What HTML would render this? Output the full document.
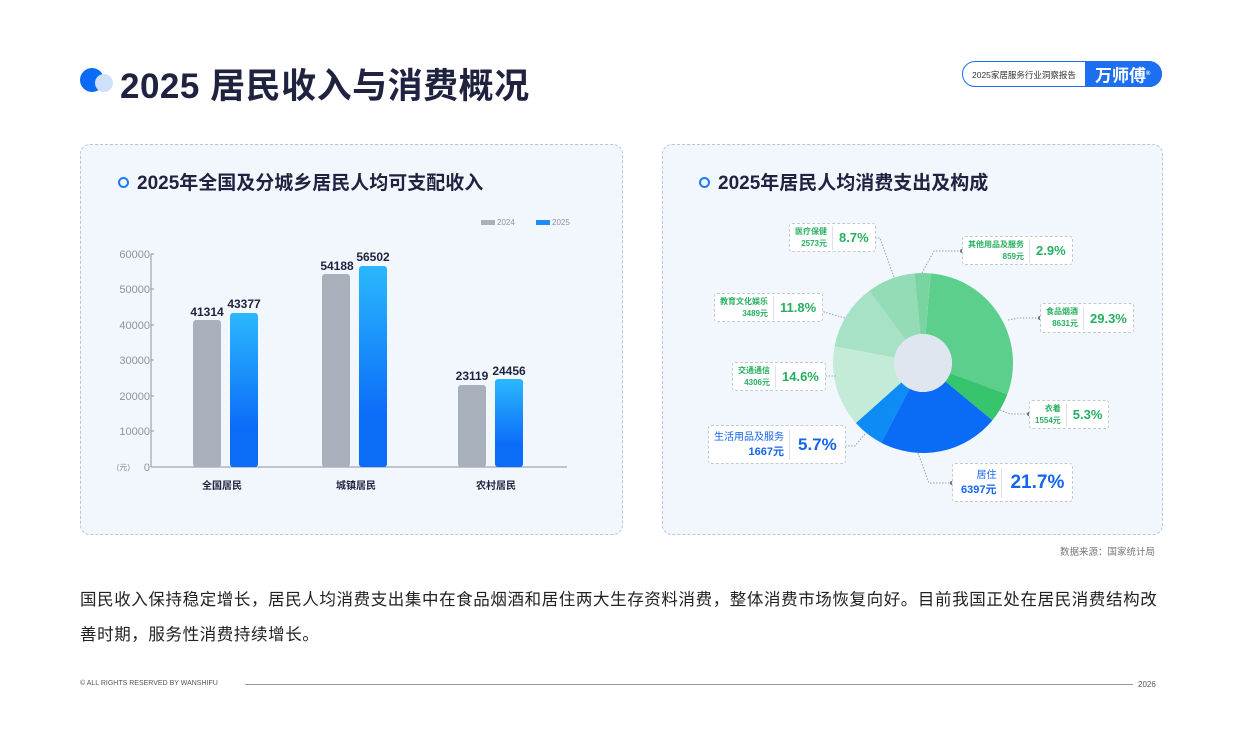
<!DOCTYPE html>
<html><head><meta charset="utf-8">
<style>
*{margin:0;padding:0;box-sizing:border-box}
body{width:1240px;height:739px;background:#fff;font-family:"Liberation Sans","Noto Sans CJK SC",sans-serif;position:relative;overflow:hidden;color:#1f2340}
.abs{position:absolute}
.card{position:absolute;background:#f2f7fe;border:1px dashed #b9c6dc;border-radius:10px}
.ct{position:absolute;font-weight:bold;font-size:19px;color:#1f2340;white-space:nowrap}
.ring{display:inline-block;width:11px;height:11px;border:2px solid #1b7cf5;border-radius:50%;margin-right:8px;vertical-align:1px}
.lb{position:absolute;background:#fff;border:1px dashed #c3c9d3;border-radius:3px;display:flex;align-items:center;justify-content:flex-end;white-space:nowrap;padding-left:5px}
.lb .t{flex:none;text-align:right;font-size:8px;line-height:12px;font-weight:bold;padding-right:5px;border-right:1px solid #dde2ea;white-space:nowrap}
.lb .p{flex:none;font-weight:bold;padding:0 6px 0 6px;font-size:13px}
.g{color:#27ae60}.b{color:#1464f0}
</style></head><body>
<div class="abs" style="left:80px;top:68px;width:24px;height:24px;border-radius:50%;background:#0a6cf6"></div>
<div class="abs" style="left:95px;top:74px;width:18px;height:18px;border-radius:50%;background:#cfe0fa"></div>
<div class="abs" style="left:120px;top:58px;font-size:35px;font-weight:bold;color:#1f2340;letter-spacing:0.5px">2025 居民收入与消费概况</div>
<div class="abs" style="left:962px;top:61px;width:200px;height:26px;border:1.5px solid #1b6ff0;border-radius:13px;background:#fff"></div>
<div class="abs" style="left:972px;top:69px;font-size:8.5px;color:#333;white-space:nowrap">2025家居服务行业洞察报告</div>
<div class="abs" style="left:1085px;top:61px;width:77px;height:26px;background:#1b6ff0;border-radius:0 13px 13px 0;color:#fff;font-size:17px;font-weight:bold;padding-left:10px;line-height:26px">万师傅<sup style="font-size:6px">®</sup></div>

<div class="card" style="left:80px;top:144px;width:543px;height:391px"></div>
<div class="ct" style="left:118px;top:168px"><span class="ring"></span>2025年全国及分城乡居民人均可支配收入</div>
<div class="card" style="left:662px;top:144px;width:501px;height:391px"></div>
<div class="ct" style="left:699px;top:168px"><span class="ring"></span>2025年居民人均消费支出及构成</div>

<svg class="abs" style="left:0;top:0" width="1240" height="739">
<defs><linearGradient id="bg" x1="0" y1="0" x2="0" y2="1"><stop offset="0" stop-color="#2bb8fe"/><stop offset="0.75" stop-color="#0b6cf8"/></linearGradient></defs>
<g font-family="Liberation Sans" font-size="11" fill="#8a93a3" text-anchor="end">
<text x="150" y="258">60000</text><text x="150" y="293">50000</text><text x="150" y="329">40000</text><text x="150" y="364">30000</text><text x="150" y="400">20000</text><text x="150" y="435">10000</text><text x="150" y="471">0</text>
<text x="130" y="470" font-size="8">(元)</text></g>
<g stroke="#8a93a3" stroke-width="1"><line x1="151" y1="254" x2="151" y2="467"/><line x1="151" y1="467" x2="567" y2="467"/>
<line x1="151" y1="254" x2="154" y2="254"/><line x1="151" y1="289" x2="154" y2="289"/><line x1="151" y1="325" x2="154" y2="325"/><line x1="151" y1="360" x2="154" y2="360"/><line x1="151" y1="396" x2="154" y2="396"/><line x1="151" y1="431" x2="154" y2="431"/></g>
<g fill="#a8b1bb">
<rect x="193" y="320" width="28" height="147" rx="3"/><rect x="322" y="274" width="28" height="193" rx="3"/><rect x="458" y="385" width="28" height="82" rx="3"/></g>
<g fill="url(#bg)">
<rect x="230" y="313" width="28" height="154" rx="3"/><rect x="359" y="266" width="28" height="201" rx="3"/><rect x="495" y="379" width="28" height="88" rx="3"/></g>
<g font-family="Liberation Sans" font-size="12" fill="#1f2340" text-anchor="middle" font-weight="bold">
<text x="207" y="316">41314</text><text x="244" y="308">43377</text><text x="337" y="270">54188</text><text x="373" y="261">56502</text><text x="472" y="380">23119</text><text x="509" y="375">24456</text></g>
<g font-family="Liberation Sans,Noto Sans CJK SC" font-size="10" fill="#1f2340" text-anchor="middle" font-weight="bold">
<text x="222" y="489">全国居民</text><text x="356" y="489">城镇居民</text><text x="496" y="489">农村居民</text></g>
<rect x="481" y="220" width="14" height="5" fill="#a8b1bb"/><text x="497" y="225" font-size="8" fill="#8a93a3" font-family="Liberation Sans">2024</text>
<rect x="536" y="220" width="14" height="5" fill="#1b8cf8"/><text x="552" y="225" font-size="8" fill="#8a93a3" font-family="Liberation Sans">2025</text>
<g id="pie"></g>
<g stroke="#9aa2ad" stroke-width="1" stroke-dasharray="1.5,1.5" fill="none">
<polyline points="894,277 880,238 866,238"/><polyline points="922,273 934,251 962,251"/>
<polyline points="845,318 810,308"/><polyline points="1008,320 1018,318 1040,318"/>
<polyline points="836,376 812,376"/><polyline points="1000,410 1010,414 1029,414"/>
<polyline points="865,434 855,446 838,446"/><polyline points="918,453 929,483 952,483"/></g>
<g fill="#6e7683"><circle cx="866" cy="238" r="2"/><circle cx="962" cy="251" r="2"/><circle cx="810" cy="308" r="2"/><circle cx="1040" cy="318" r="2"/><circle cx="812" cy="376" r="2"/><circle cx="1029" cy="414" r="2"/><circle cx="838" cy="446" r="2"/><circle cx="952" cy="483" r="2"/></g>
</svg>

<div class="lb" style="left:789px;top:223px;height:29px"><div class="t g">医疗保健<br>2573元</div><div class="p g">8.7%</div></div>
<div class="lb" style="left:962px;top:236px;height:29px"><div class="t g">其他用品及服务<br>859元</div><div class="p g">2.9%</div></div>
<div class="lb" style="left:714px;top:293px;height:29px"><div class="t g">教育文化娱乐<br>3489元</div><div class="p g">11.8%</div></div>
<div class="lb" style="left:1040px;top:303px;height:30px"><div class="t g">食品烟酒<br>8631元</div><div class="p g">29.3%</div></div>
<div class="lb" style="left:732px;top:362px;height:29px"><div class="t g">交通通信<br>4306元</div><div class="p g">14.6%</div></div>
<div class="lb" style="left:1029px;top:400px;height:29px"><div class="t g">衣着<br>1554元</div><div class="p g">5.3%</div></div>
<div class="lb" style="left:708px;top:425px;height:39px"><div class="t b" style="font-size:10px;line-height:15px;font-weight:normal">生活用品及服务<br><b style="font-size:11px">1667元</b></div><div class="p b" style="font-size:17px;padding:0 8px">5.7%</div></div>
<div class="lb" style="left:952px;top:463px;height:39px;padding-left:8px"><div class="t b" style="font-size:10px;line-height:15px;font-weight:normal">居住<br><b style="font-size:11px">6397元</b></div><div class="p b" style="font-size:19px;padding:0 8px">21.7%</div></div>

<div class="abs" style="left:1060px;top:544px;font-size:9.5px;color:#777">数据来源：国家统计局</div>
<div class="abs" style="left:80px;top:583px;width:1080px;font-size:16.5px;letter-spacing:0.6px;line-height:35px;color:#222">国民收入保持稳定增长，居民人均消费支出集中在食品烟酒和居住两大生存资料消费，整体消费市场恢复向好。目前我国正处在居民消费结构改善时期，服务性消费持续增长。</div>
<div class="abs" style="left:80px;top:680px;font-size:7px;color:#555">© ALL RIGHTS RESERVED BY WANSHIFU</div>
<div class="abs" style="left:245px;top:684px;width:888px;height:1px;background:#999"></div>
<div class="abs" style="left:1138px;top:680px;font-size:8px;color:#555">2026</div>
<script>
var cx=923,cy=363,R=90,r=29,a=5;
var d=[[29.3,"#5ccf8d"],[5.3,"#36c46c"],[21.7,"#0a6cf6"],[5.7,"#0e8cf5"],[14.6,"#c4ead8"],[11.8,"#a8e2c6"],[8.7,"#94dcb5"],[2.9,"#7ad4a2"]];
var s="";function p(ang,rad){var t=ang*Math.PI/180;return (cx+rad*Math.sin(t)).toFixed(2)+","+(cy-rad*Math.cos(t)).toFixed(2);}
d.forEach(function(x){var b=a+x[0]*3.6,l=x[0]>50?1:0;
s+='<path d="M'+p(a,R)+' A'+R+','+R+' 0 '+l+' 1 '+p(b,R)+' L'+p(b,r)+' A'+r+','+r+' 0 '+l+' 0 '+p(a,r)+'Z" fill="'+x[1]+'"/>';a=b;});
s+='<circle cx="'+cx+'" cy="'+cy+'" r="'+r+'" fill="#e0e6f0"/>';
document.getElementById("pie").innerHTML=s;
</script>
</body></html>
